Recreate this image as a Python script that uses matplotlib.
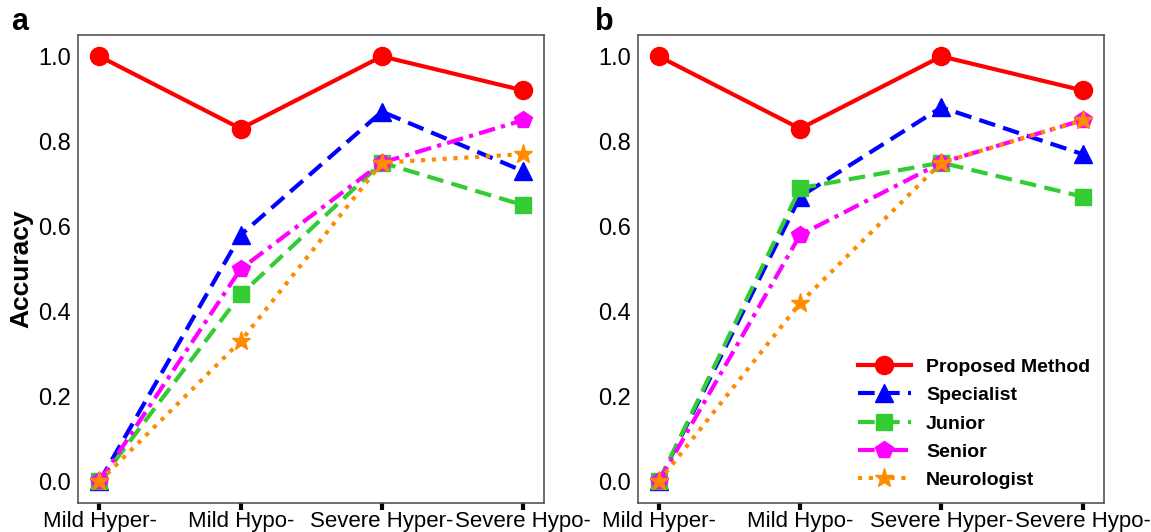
import matplotlib.pyplot as plt
import numpy as np

plt.rcParams['font.family'] = ['Liberation Sans', 'DejaVu Sans']

categories = ['Mild Hyper-', 'Mild Hypo-', 'Severe Hyper-', 'Severe Hypo-']
series_names = ['Proposed Method', 'Specialist', 'Junior', 'Senior', 'Neurologist']

# panel a
proposed_a = [1.0, 0.83, 1.0, 0.92]
specialist_a = [0.0, 0.58, 0.87, 0.73]
junior_a = [0.0, 0.44, 0.75, 0.65]
senior_a = [0.0, 0.50, 0.75, 0.85]
neuro_a = [0.0, 0.33, 0.75, 0.77]

# panel b
proposed_b = [1.0, 0.83, 1.0, 0.92]
specialist_b = [0.0, 0.67, 0.88, 0.77]
junior_b = [0.0, 0.69, 0.75, 0.67]
senior_b = [0.0, 0.58, 0.75, 0.85]
neuro_b = [0.0, 0.42, 0.75, 0.85]

styles = [
    dict(color='#ff0000', ls='-', marker='o', ms=13),
    dict(color='#0000ff', ls=(0, (4, 2)), marker='^', ms=13),
    dict(color='#33cc33', ls=(0, (4, 2)), marker='s', ms=12),
    dict(color='#ff00ff', ls=(0, (4, 1.5, 1, 1.5)), marker='p', ms=13),
    dict(color='#ff8c00', ls=(0, (1, 1.6)), marker='*', ms=14),
]

fig = plt.figure(figsize=(11.51, 5.32), dpi=100)
ax_a = fig.add_axes([0.068, 0.055, 0.405, 0.879])
ax_b = fig.add_axes([0.554, 0.055, 0.405, 0.879])

x = np.arange(len(categories))
panels = [(ax_a, [proposed_a, specialist_a, junior_a, senior_a, neuro_a], 'a', 0.010),
          (ax_b, [proposed_b, specialist_b, junior_b, senior_b, neuro_b], 'b', 0.517)]

for ax, data, letter, lx in panels:
    for name, vals, st in zip(series_names, data, styles):
        ax.plot(x, vals, label=name, lw=3, color=st['color'], ls=st['ls'],
                marker=st['marker'], ms=st['ms'], mec=st['color'])
    ax.set_xlim(-0.15, 3.15)
    ax.set_ylim(-0.05, 1.05)
    ax.set_xticks(x)
    ax.set_xticklabels(categories, fontsize=16)
    ax.set_yticks([0, 0.2, 0.4, 0.6, 0.8, 1.0])
    ax.set_yticklabels(['0.0', '0.2', '0.4', '0.6', '0.8', '1.0'], fontsize=17)
    ax.tick_params(axis='x', length=5, width=3, pad=1, color='black')
    ax.tick_params(axis='y', length=0, pad=5)
    for sp in ax.spines.values():
        sp.set_color('#555555')
        sp.set_linewidth(1.2)
    fig.text(lx, 1 - 30 / 532, letter, fontsize=22, fontweight='bold',
             va='baseline')

ax_a.set_ylabel('Accuracy', fontsize=19, fontweight='bold', labelpad=4)

leg = ax_b.legend(loc='lower right', frameon=False, handlelength=2.7,
                  prop={'weight': 'bold', 'size': 14}, borderaxespad=0.3,
                  labelspacing=0.55)

fig.savefig('out.png', dpi=100)
